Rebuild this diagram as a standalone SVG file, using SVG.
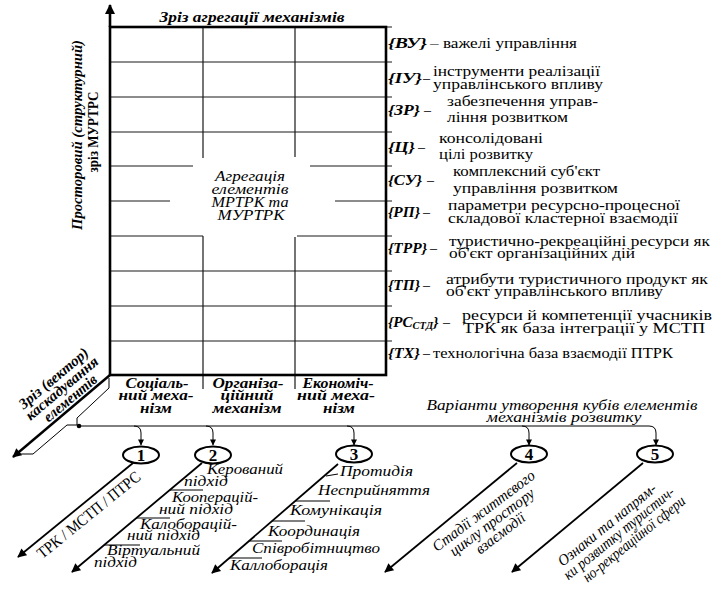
<svg xmlns="http://www.w3.org/2000/svg" width="714" height="592" viewBox="0 0 714 592">
<style>
text{font-family:"Liberation Serif","Times New Roman",serif;fill:#000}
.lab{font-size:15px;font-weight:bold;font-style:italic}
.d{font-size:14px}
.bi{font-weight:bold;font-style:italic}
.it{font-style:italic}
.mid{text-anchor:middle}
.g{stroke:#1a1a1a;stroke-width:1.2;fill:none}
.b{stroke:#000;stroke-width:2.6;fill:none}
.c{stroke:#000;stroke-width:1.8;fill:none}
.t{stroke:#000;stroke-width:1;fill:none}
.n{font-size:17px;font-weight:bold;text-anchor:middle}
.ell{fill:#fff;stroke:#000;stroke-width:2}
.l{font-size:15.5px;font-style:italic}
</style>
<defs>
<marker id="ah" viewBox="0 0 10 10" refX="9" refY="5" markerWidth="12" markerHeight="9" markerUnits="userSpaceOnUse" orient="auto"><path d="M0,0 L10,5 L0,10 z" fill="#000"/></marker>
<marker id="ax" viewBox="0 0 10 10" refX="9" refY="5" markerWidth="10" markerHeight="10" markerUnits="userSpaceOnUse" orient="auto"><path d="M0,0 L10,5 L0,10 z" fill="#000"/></marker>
<marker id="as" viewBox="0 0 10 10" refX="9" refY="5" markerWidth="7" markerHeight="6" markerUnits="userSpaceOnUse" orient="auto"><path d="M0,0 L10,5 L0,10 z" fill="#000"/></marker>
</defs>

<g id="grid">
<path class="g" d="M110,62H392M110,97H392M110,132H392M110,271H392M110,306H392M110,341H392M386,27H392
M110,166H193M310,166H392M110,201H170M335,201H392M110,236H203M297,236H392
M203,27V158M203,236V389M295,27V157M295,237V389"/>
<rect class="b" x="110" y="27" width="276" height="348"/>
<text class="bi mid" x="252" y="22" font-size="15.5" textLength="185" lengthAdjust="spacingAndGlyphs">Зріз агрегації механізмів</text>
<text class="it mid" x="250" y="181" font-size="15.5" textLength="70" lengthAdjust="spacingAndGlyphs">Агрегація</text>
<text class="it mid" x="250" y="194" font-size="15.5" textLength="77" lengthAdjust="spacingAndGlyphs">елементів</text>
<text class="it mid" x="250" y="207" font-size="15.5" textLength="77" lengthAdjust="spacingAndGlyphs">МРТРК та</text>
<text class="it mid" x="251" y="220" font-size="15.5" textLength="67" lengthAdjust="spacingAndGlyphs">МУРТРК</text>
</g>

<g id="axis-label">
<text class="bi mid" transform="translate(82,135) rotate(-90)" font-size="15.5" textLength="190" lengthAdjust="spacingAndGlyphs">Просторовий (структурний)</text>
<text class="mid" font-weight="bold" transform="translate(98,132) rotate(-90)" font-size="15.5" textLength="81" lengthAdjust="spacingAndGlyphs">зріз МУРТРС</text>
</g>

<g id="col-social">
<text class="bi mid" x="157" y="388" font-size="15" textLength="63" lengthAdjust="spacingAndGlyphs">Соціаль-</text>
<text class="bi mid" x="156" y="400" font-size="15" textLength="75" lengthAdjust="spacingAndGlyphs">ний меха-</text>
<text class="bi mid" x="156" y="413" font-size="15" textLength="32" lengthAdjust="spacingAndGlyphs">нізм</text>
</g>
<g id="col-org">
<text class="bi mid" x="248" y="388" font-size="15" textLength="71" lengthAdjust="spacingAndGlyphs">Організа-</text>
<text class="bi mid" x="247" y="400" font-size="15" textLength="53" lengthAdjust="spacingAndGlyphs">ційний</text>
<text class="bi mid" x="247" y="413" font-size="15" textLength="69" lengthAdjust="spacingAndGlyphs">механізм</text>
</g>
<g id="col-econ">
<text class="bi mid" x="338" y="388" font-size="15" textLength="71" lengthAdjust="spacingAndGlyphs">Економіч-</text>
<text class="bi mid" x="336" y="400" font-size="15" textLength="78" lengthAdjust="spacingAndGlyphs">ний меха-</text>
<text class="bi mid" x="339" y="413" font-size="15" textLength="32" lengthAdjust="spacingAndGlyphs">нізм</text>
</g>

<g id="row-vu">
<text class="lab" x="388" y="48" textLength="39" lengthAdjust="spacingAndGlyphs">{ВУ}</text>
<text class="d" x="430" y="48" textLength="147" lengthAdjust="spacingAndGlyphs">– важелі управління</text>
</g>
<g id="row-iu">
<text class="lab" x="388" y="83" textLength="34" lengthAdjust="spacingAndGlyphs">{ІУ}</text>
<text class="d" x="423" y="83">–</text>
<text class="d" x="433" y="76" textLength="167" lengthAdjust="spacingAndGlyphs">інструменти реалізації</text>
<text class="d" x="433" y="89" textLength="170" lengthAdjust="spacingAndGlyphs">управлінського впливу</text>
</g>
<g id="row-zr">
<text class="lab" x="388" y="115" textLength="32" lengthAdjust="spacingAndGlyphs">{ЗР}</text>
<text class="d" x="424" y="115">–</text>
<text class="d" x="447" y="106" textLength="151" lengthAdjust="spacingAndGlyphs">забезпечення  управ-</text>
<text class="d" x="447" y="122" textLength="121" lengthAdjust="spacingAndGlyphs">ління розвитком</text>
</g>
<g id="row-ts">
<text class="lab" x="388" y="152" textLength="27" lengthAdjust="spacingAndGlyphs">{Ц}</text>
<text class="d" x="418" y="152">–</text>
<text class="d" x="439" y="143" textLength="104" lengthAdjust="spacingAndGlyphs">консолідовані</text>
<text class="d" x="439" y="159" textLength="94" lengthAdjust="spacingAndGlyphs">цілі розвитку</text>
</g>
<g id="row-su">
<text class="lab" x="388" y="185" textLength="34" lengthAdjust="spacingAndGlyphs">{СУ}</text>
<text class="d" x="427" y="185">–</text>
<text class="d" x="453" y="176" textLength="147" lengthAdjust="spacingAndGlyphs">комплексний суб'єкт</text>
<text class="d" x="453" y="193" textLength="165" lengthAdjust="spacingAndGlyphs">управління розвитком</text>
</g>
<g id="row-rp">
<text class="lab" x="388" y="217" textLength="32" lengthAdjust="spacingAndGlyphs">{РП}</text>
<text class="d" x="423" y="217">–</text>
<text class="d" x="448" y="210" textLength="232" lengthAdjust="spacingAndGlyphs">параметри ресурсно-процесної</text>
<text class="d" x="448" y="223" textLength="230" lengthAdjust="spacingAndGlyphs">складової кластерної взаємодії</text>
</g>
<g id="row-trr">
<text class="lab" x="388" y="253" textLength="39" lengthAdjust="spacingAndGlyphs">{ТРР}</text>
<text class="d" x="430" y="253">–</text>
<text class="d" x="449" y="246" textLength="261" lengthAdjust="spacingAndGlyphs">туристично-рекреаційні ресурси як</text>
<text class="d" x="449" y="258" textLength="186" lengthAdjust="spacingAndGlyphs">об'єкт організаційних дій</text>
</g>
<g id="row-tp">
<text class="lab" x="388" y="290" textLength="32" lengthAdjust="spacingAndGlyphs">{ТП}</text>
<text class="d" x="423" y="290">–</text>
<text class="d" x="446" y="284" textLength="262" lengthAdjust="spacingAndGlyphs">атрибути туристичного продукт як</text>
<text class="d" x="446" y="296" textLength="217" lengthAdjust="spacingAndGlyphs">об'єкт управлінського впливу</text>
</g>
<g id="row-rs">
<text class="lab" x="388" y="327">{РС<tspan font-size="10.5" dy="2">СТД</tspan><tspan dy="-2">}</tspan></text>
<text class="d" x="443" y="327">–</text>
<text class="d" x="462" y="320" textLength="250" lengthAdjust="spacingAndGlyphs">ресурси й компетенції учасників</text>
<text class="d" x="463" y="333" textLength="242" lengthAdjust="spacingAndGlyphs">ТРК як база інтеграції у МСТП</text>
</g>
<g id="row-th">
<text class="lab" x="388" y="358" textLength="32" lengthAdjust="spacingAndGlyphs">{ТХ}</text>
<text class="d" x="423" y="358">–</text>
<text class="d" x="433" y="358" textLength="240" lengthAdjust="spacingAndGlyphs">технологічна база взаємодії ПТРК</text>
</g>

<g id="cascade-label">
<g transform="translate(65,392) rotate(-40)">
<text class="bi mid" x="0" y="-13" font-size="15" textLength="86" lengthAdjust="spacingAndGlyphs">Зріз (вектор)</text>
<text class="bi mid" x="0" y="0" font-size="15" textLength="90" lengthAdjust="spacingAndGlyphs">каскадування</text>
<text class="bi mid" x="0" y="13" font-size="15" textLength="65" lengthAdjust="spacingAndGlyphs">елементів</text>
</g>
</g>

<g id="variants-title">
<text class="it mid" x="562" y="410" font-size="14.5" textLength="271" lengthAdjust="spacingAndGlyphs">Варіанти утворення кубів елементів</text>
<text class="it mid" x="564" y="422" font-size="14.5" textLength="155" lengthAdjust="spacingAndGlyphs">механізмів розвитку</text>
</g>

<g id="connectors">
<line x1="110" y1="27" x2="110" y2="5" stroke="#000" stroke-width="2.6" marker-end="url(#ax)"/>
<line x1="110" y1="375" x2="13" y2="457" stroke="#000" stroke-width="2.4" marker-end="url(#ah)"/>
<polyline class="t" points="109,378 109,388 77,418 77,425 67,425 33,454 20,454"/>
<circle cx="79" cy="426" r="2.3" fill="#000"/>
<path class="t" d="M79,426H649"/>
<path class="t" marker-end="url(#as)" d="M134,426Q141,426 141,433V445"/>
<path class="t" marker-end="url(#as)" d="M206,426Q213,426 213,433V445"/>
<path class="t" marker-end="url(#as)" d="M347,426Q354,426 354,433V445"/>
<path class="t" marker-end="url(#as)" d="M522,426Q529,426 529,433V445"/>
<path class="t" marker-end="url(#as)" d="M649,426Q656,426 656,433V445"/>
<line class="c" x1="133" y1="463" x2="18" y2="557" marker-end="url(#ah)"/>
<line class="c" x1="202" y1="463" x2="72" y2="572" marker-end="url(#ah)"/>
<line class="c" x1="338" y1="464" x2="212" y2="573" marker-end="url(#ah)"/>
<line class="c" x1="517" y1="463" x2="385" y2="572" marker-end="url(#ah)"/>
<line class="c" x1="643" y1="463" x2="512" y2="572" marker-end="url(#ah)"/>
<path class="t" d="M170,490H203M136,518H170M104,545H140"/>
<path class="t" d="M326,476L338,474M295,501H330M272,521H305M249,541H282M229,558H262"/>
</g>

<g id="v1">
<ellipse class="ell" cx="141" cy="455" rx="18" ry="8.5"/>
<text class="n" x="141" y="461">1</text>
<text class="mid" transform="translate(92,519) rotate(-39)" font-size="16" textLength="128" lengthAdjust="spacingAndGlyphs">ТРК / МСТП / ПТРС</text>
</g>
<g id="v2">
<ellipse class="ell" cx="213" cy="455" rx="18" ry="8.5"/>
<text class="n" x="213" y="461">2</text>
<text class="l" x="207" y="474" textLength="76" lengthAdjust="spacingAndGlyphs">Керований</text>
<text class="l" x="184" y="486" textLength="44" lengthAdjust="spacingAndGlyphs">підхід</text>
<text class="l" x="172" y="502" textLength="86" lengthAdjust="spacingAndGlyphs">Кооперацій-</text>
<text class="l" x="159" y="514" textLength="74" lengthAdjust="spacingAndGlyphs">ний підхід</text>
<text class="l" x="140" y="529" textLength="97" lengthAdjust="spacingAndGlyphs">Калоборацій-</text>
<text class="l" x="127" y="540" textLength="73" lengthAdjust="spacingAndGlyphs">ний підхід</text>
<text class="l" x="107" y="555" textLength="93" lengthAdjust="spacingAndGlyphs">Віртуальний</text>
<text class="l" x="94" y="567" textLength="43" lengthAdjust="spacingAndGlyphs">підхід</text>
</g>
<g id="v3">
<ellipse class="ell" cx="354" cy="454" rx="18" ry="8.5"/>
<text class="n" x="354" y="460">3</text>
<text class="l" x="340" y="476" textLength="73" lengthAdjust="spacingAndGlyphs">Протидія</text>
<text class="l" x="318" y="495" textLength="112" lengthAdjust="spacingAndGlyphs">Несприйняття</text>
<text class="l" x="290" y="515" textLength="92" lengthAdjust="spacingAndGlyphs">Комунікація</text>
<text class="l" x="268" y="536" textLength="92" lengthAdjust="spacingAndGlyphs">Координація</text>
<text class="l" x="252" y="553" textLength="128" lengthAdjust="spacingAndGlyphs">Співробітництво</text>
<text class="l" x="230" y="570" textLength="98" lengthAdjust="spacingAndGlyphs">Каллоборація</text>
</g>
<g id="v4">
<ellipse class="ell" cx="529" cy="454" rx="18" ry="8.5"/>
<text class="n" x="529" y="460">4</text>
<g transform="translate(495,526) rotate(-37)">
<text class="it mid" x="0" y="-14" font-size="15.5" textLength="124" lengthAdjust="spacingAndGlyphs">Стадії життєвого</text>
<text class="it mid" x="0" y="0" font-size="15.5" textLength="102" lengthAdjust="spacingAndGlyphs">циклу простору</text>
<text class="it mid" x="0" y="14" font-size="15.5" textLength="58" lengthAdjust="spacingAndGlyphs">взаємодії</text>
</g>
</g>
<g id="v5">
<ellipse class="ell" cx="655" cy="454" rx="18" ry="8.5"/>
<text class="n" x="655" y="460">5</text>
<g transform="translate(622,537) rotate(-39)">
<text class="it mid" x="-4" y="-14" font-size="15.5" textLength="122" lengthAdjust="spacingAndGlyphs">Ознаки та напрям-</text>
<text class="it mid" x="0" y="0" font-size="15.5" textLength="138" lengthAdjust="spacingAndGlyphs">ки розвитку туристич-</text>
<text class="it mid" x="8" y="14" font-size="15.5" textLength="127" lengthAdjust="spacingAndGlyphs">но-рекреаційної сфери</text>
</g>
</g>
</svg>
